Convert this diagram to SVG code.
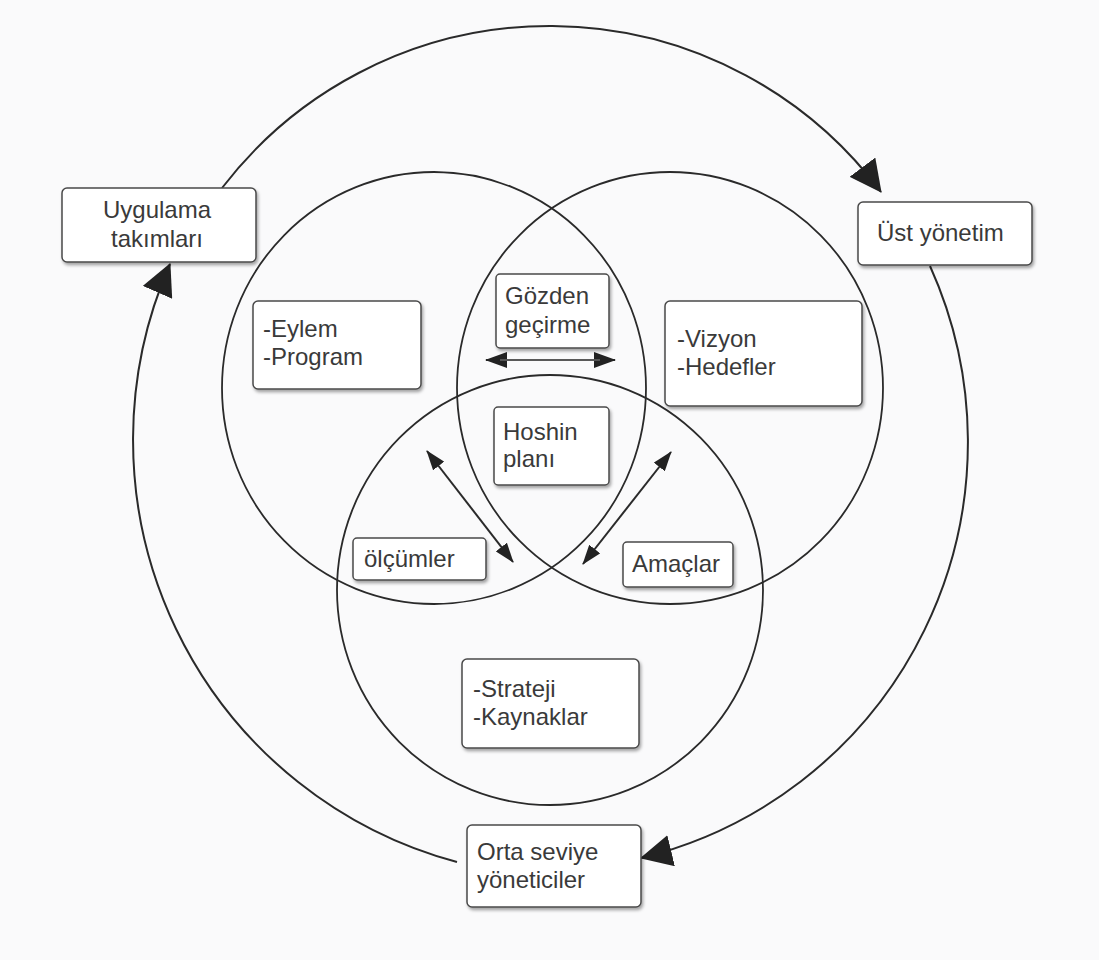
<svg xmlns="http://www.w3.org/2000/svg" width="1099" height="960" viewBox="0 0 1099 960">
  <defs>
    <marker id="big" viewBox="0 0 32 32" refX="31" refY="16" markerWidth="32" markerHeight="32" markerUnits="userSpaceOnUse" orient="auto">
      <path d="M0,0 L32,16 L0,32 z" fill="#222"/>
    </marker>
    <marker id="sm" viewBox="0 0 20 14" refX="19" refY="7" markerWidth="20" markerHeight="14" markerUnits="userSpaceOnUse" orient="auto-start-reverse">
      <path d="M0,0 L20,7 L0,14 z" fill="#222"/>
    </marker>
    <marker id="md" viewBox="0 0 22 16" refX="21" refY="8" markerWidth="22" markerHeight="16" markerUnits="userSpaceOnUse" orient="auto-start-reverse">
      <path d="M0,0 L22,8 L0,16 z" fill="#222"/>
    </marker>
    <filter id="sh" x="-10%" y="-10%" width="130%" height="140%">
      <feDropShadow dx="1.5" dy="2.5" stdDeviation="1.5" flood-color="#000" flood-opacity="0.35"/>
    </filter>
  </defs>
  <style>
    .circ { fill: none; stroke: #2a2a2a; stroke-width: 1.8; }
    .conn { fill: none; stroke: #2a2a2a; stroke-width: 2; }
    .box { fill: #ffffff; stroke: #4a4a4a; stroke-width: 1.5; filter: url(#sh); }
    .t { font-family: "Liberation Sans", Arial, sans-serif; font-size: 24px; fill: #3a3a3a; }
    .c { text-anchor: middle; }
  </style>
  <rect width="1099" height="960" fill="#fafafb"/>

  <g id="venn">
    <ellipse class="circ" cx="434" cy="388" rx="212" ry="216"/>
    <ellipse class="circ" cx="670" cy="388" rx="213" ry="216"/>
    <ellipse class="circ" cx="550" cy="590" rx="213" ry="215"/>
  </g>

  <g id="connectors">
    <path class="conn" d="M 222 188 A 413 413 0 0 1 881 192" marker-end="url(#big)"/>
    <path class="conn" d="M 930 266 A 428 428 0 0 1 641 858" marker-end="url(#big)"/>
    <path class="conn" d="M 457 862 A 437 437 0 0 1 170 264" marker-end="url(#big)"/>
    <line class="conn" x1="486" y1="360" x2="615" y2="360" stroke-width="4" marker-start="url(#md)" marker-end="url(#md)"/>
    <line x1="500" y1="360" x2="600" y2="360" stroke="#888" stroke-width="1"/>
    <line class="conn" x1="427" y1="451" x2="513" y2="562" marker-start="url(#sm)" marker-end="url(#sm)"/>
    <line class="conn" x1="671" y1="452" x2="583" y2="564" marker-start="url(#sm)" marker-end="url(#sm)"/>
  </g>

  <g id="uygulama">
    <rect class="box" x="62" y="188" width="194" height="74" rx="5"/>
    <text class="t c" x="157" y="218">Uygulama</text>
    <text class="t c" x="157" y="247">takımları</text>
  </g>
  <g id="ust">
    <rect class="box" x="858" y="202" width="174" height="63" rx="5"/>
    <text class="t" x="877" y="241">Üst yönetim</text>
  </g>
  <g id="eylem">
    <rect class="box" x="253" y="301" width="168" height="88" rx="5"/>
    <text class="t" x="263" y="337">-Eylem</text>
    <text class="t" x="263" y="365">-Program</text>
  </g>
  <g id="gozden">
    <rect class="box" x="496" y="274" width="113" height="74" rx="4"/>
    <text class="t" x="505" y="304">Gözden</text>
    <text class="t" x="505" y="333">geçirme</text>
  </g>
  <g id="vizyon">
    <rect class="box" x="665" y="301" width="197" height="105" rx="5"/>
    <text class="t" x="677" y="347">-Vizyon</text>
    <text class="t" x="677" y="375">-Hedefler</text>
  </g>
  <g id="hoshin">
    <rect class="box" x="494" y="407" width="115" height="78" rx="4"/>
    <text class="t" x="503" y="440">Hoshin</text>
    <text class="t" x="503" y="467">planı</text>
  </g>
  <g id="olcumler">
    <rect class="box" x="353" y="538" width="133" height="42" rx="4"/>
    <text class="t" x="364" y="567">ölçümler</text>
  </g>
  <g id="amaclar">
    <rect class="box" x="623" y="542" width="110" height="45" rx="4"/>
    <text class="t" x="632" y="572">Amaçlar</text>
  </g>
  <g id="strateji">
    <rect class="box" x="462" y="659" width="177" height="89" rx="5"/>
    <text class="t" x="473" y="697">-Strateji</text>
    <text class="t" x="473" y="725">-Kaynaklar</text>
  </g>
  <g id="orta">
    <rect class="box" x="467" y="825" width="174" height="82" rx="5"/>
    <text class="t" x="477" y="860">Orta seviye</text>
    <text class="t" x="477" y="888">yöneticiler</text>
  </g>
</svg>
